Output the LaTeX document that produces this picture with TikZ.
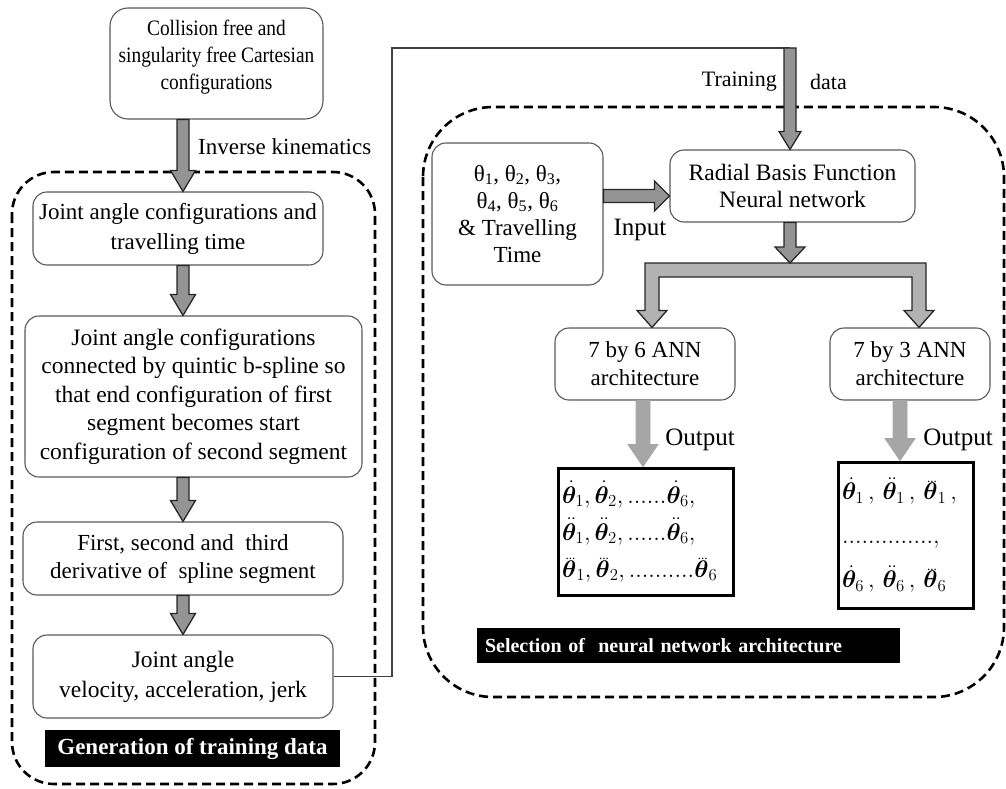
\RequirePackage{fix-cm}
\documentclass[tikz,border=0pt]{standalone}
\usepackage{amsmath,bm}
\usepackage{fontspec}
\setmainfont{Liberation Serif}
\newfontfamily\narrowserif{Liberation Serif}[FakeStretch=0.88]
\usetikzlibrary{calc}

% vertical block arrow: [style]{from}{to}{shaft half}{head half}{head length}
\newcommand\vblk[6][blk]{%
  \path[#1] let \p1=(#2), \p2=(#3) in
    (\x1-#4pt,\y1) -- (\x1+#4pt,\y1) -- (\x1+#4pt,\y2+#6pt) -- (\x1+#5pt,\y2+#6pt)
    -- (\x1,\y2) -- (\x1-#5pt,\y2+#6pt) -- (\x1-#4pt,\y2+#6pt) -- cycle;}
% horizontal block arrow
\newcommand\hblk[6][blk]{%
  \path[#1] let \p1=(#2), \p2=(#3) in
    (\x1,\y1-#4pt) -- (\x2-#6pt,\y1-#4pt) -- (\x2-#6pt,\y1-#5pt) -- (\x2,\y1)
    -- (\x2-#6pt,\y1+#5pt) -- (\x2-#6pt,\y1+#4pt) -- (\x1,\y1+#4pt) -- cycle;}
% bold theta with one, two or three dots
\newcommand\tha{\dot{\bm\theta}}
\newcommand\thb{\ddot{\bm\theta}}
\newcommand\thc{\mathord{\bm\theta\llap{\raisebox{0.72em}{\fontsize{13}{13}\selectfont...}\kern0.04em}}}

\begin{document}
\begin{tikzpicture}[x=1pt,y=-1pt,
  box/.style={draw=black!65, line width=1.1pt, rounded corners=14pt, fill=white,
    align=center, font=\fontsize{23}{28}\selectfont, inner sep=0pt},
  outbox/.style={draw=black, line width=3pt, fill=white, inner sep=0pt,
    align=left, font=\fontsize{24}{37}\selectfont},
  tag/.style={fill=black, text=white, font=\bfseries\fontsize{23}{26}\selectfont, inner sep=0pt},
  group/.style={draw=black, line width=2.6pt, dash pattern=on 9pt off 5pt},
  blk/.style={fill=black!42, draw=black!85, line width=1.3pt, line join=miter},
  pale/.style={fill=black!35, draw=black!35, line width=0.8pt},
  conn/.style={draw=black!75, line width=1.2pt},
  lbl/.style={font=\fontsize{23}{26}\selectfont, inner sep=0pt},
]
\useasboundingbox (0,0) rectangle (1006,789);

% dashed groups
\draw[group, rounded corners=42pt] (12,172) rectangle (375,784);
\draw[group, rounded corners=70pt] (423,107) rectangle (1004,697);

% left column
\node[box, rounded corners=18pt, minimum width=213pt, minimum height=111pt,
  font=\narrowserif\fontsize{22}{27}\selectfont] (cart) at (216.5,63.5)
  {Collision free and\\singularity free Cartesian\\configurations\\[-10pt]\mbox{}};
\node[box, minimum width=290pt, minimum height=73pt, font=\fontsize{23}{30}\selectfont] (jac) at (178,228.5)
  {Joint angle configurations and\\travelling time};
\node[box, minimum width=337pt, minimum height=161pt, font=\fontsize{23.5}{28.5}\selectfont] (spl) at (193.5,396.5)
  {Joint angle configurations\\connected by quintic b-spline so\\that end configuration of first\\segment becomes start\\configuration of second segment};
\node[box, minimum width=320pt, minimum height=73pt] (der) at (183,558.5)
  {First, second and\ \ third\\derivative of\ \ spline segment};
\node[box, minimum width=300pt, minimum height=83pt, font=\fontsize{23.5}{30}\selectfont] (vel) at (183,676.5)
  {Joint angle\\velocity, acceleration, jerk};
\node[tag, minimum width=295pt, minimum height=37pt] (gen) at (192.5,748.5)
  {Generation of training data};

\coordinate (col) at (183,0);
\vblk{cart.south -| col}{jac.north -| col}{6}{12.5}{21}
\vblk{jac.south -| col}{spl.north -| col}{6}{12.5}{21}
\vblk{spl.south -| col}{der.north -| col}{6}{12.5}{21}
\vblk{der.south -| col}{vel.north -| col}{6}{12.5}{21}
\node[lbl, anchor=west] (ik) at (198,147) {Inverse kinematics};

% right part
\node[box, minimum width=171pt, minimum height=142pt, font=\fontsize{23}{27}\selectfont] (ang) at (517.5,214)
  {θ\textsubscript{1}, θ\textsubscript{2}, θ\textsubscript{3},\\θ\textsubscript{4}, θ\textsubscript{5}, θ\textsubscript{6}\\\& Travelling\\Time};
\node[box, minimum width=245pt, minimum height=72pt, font=\fontsize{23.5}{27}\selectfont] (rbf) at (792.5,186)
  {Radial Basis Function\\Neural network};
\node[box, minimum width=180pt, minimum height=72pt] (ann6) at (645,364)
  {7 by 6 ANN\\architecture};
\node[box, minimum width=160pt, minimum height=72pt] (ann3) at (910,364)
  {7 by 3 ANN\\architecture};
\node[outbox, minimum width=175pt, minimum height=127pt, text width=167pt] (out6) at (645.5,531.5)
  {$\tha_1,\tha_2,......\tha_6,$\\
   $\thb_1,\thb_2,......\thb_6,$\\
   $\thc_1,\thc_2,..........\thc_6$};
\node[outbox, minimum width=135pt, minimum height=146pt, text width=127pt,
  font=\fontsize{24}{44}\selectfont] (out3) at (905.5,535)
  {$\tha_1\,,\,\thb_1\,,\,\thc_1\,,$\\
   $..............,$\\
   $\tha_6\,,\,\thb_6\,,\,\thc_6$};
\node[tag, minimum width=423pt, minimum height=35pt, text width=407pt, align=left,
  font=\bfseries\fontsize{20}{22}\selectfont] (sel) at (688.5,645.5)
  {Selection of\ \ neural network architecture};

% training data feed
\coordinate (c1) at (392,48);
\coordinate (td) at (790,48);
\draw[conn] (vel.east) -| (c1) -- (td);
\vblk{td}{rbf.north -| td}{6}{11}{18}
\node[lbl, anchor=east, font=\fontsize{22}{24}\selectfont] (tr) at (777,82) {Training};
\node[lbl, anchor=west, font=\fontsize{22}{24}\selectfont] (da) at (810,82) {data};

% input
\hblk{ang.east |- 0,196}{rbf.west |- 0,196}{6.5}{15}{15}
\node[lbl, font=\fontsize{25}{27}\selectfont] (inp) at (640,230) {Input};

% split into the two architectures
\coordinate (bar) at (790,263);
\coordinate (bl) at (652,0);
\coordinate (br) at (919,0);
\path[blk, fill=black!30] let \p1=(ann6.north -| bl), \p2=(ann3.north -| br), \p3=(bar) in
  (\x1-7pt,\y3) -- (\x2+7pt,\y3) -- (\x2+7pt,\y2+17pt) -- (\x2+15pt,\y2+17pt) -- (\x2,\y2)
  -- (\x2-15pt,\y2+17pt) -- (\x2-7pt,\y2+17pt) -- (\x2-7pt,\y3-14pt) -- (\x1+7pt,\y3-14pt)
  -- (\x1+7pt,\y1+17pt) -- (\x1+15pt,\y1+17pt) -- (\x1,\y1) -- (\x1-15pt,\y1+17pt)
  -- (\x1-7pt,\y1+17pt) -- cycle;
\vblk{rbf.south -| bar}{bar}{6}{15}{16}

% outputs
\coordinate (o6) at (643,0);
\coordinate (o3) at (900,0);
\vblk[pale]{ann6.south -| o6}{out6.north -| o6}{7}{15}{22}
\vblk[pale]{ann3.south -| o3}{out3.north -| o3}{7}{15}{22}
\node[lbl, font=\fontsize{25}{27}\selectfont] (ol) at (700,440) {Output};
\node[lbl, font=\fontsize{25}{27}\selectfont] (or) at (958,440) {Output};
\end{tikzpicture}
\end{document}
